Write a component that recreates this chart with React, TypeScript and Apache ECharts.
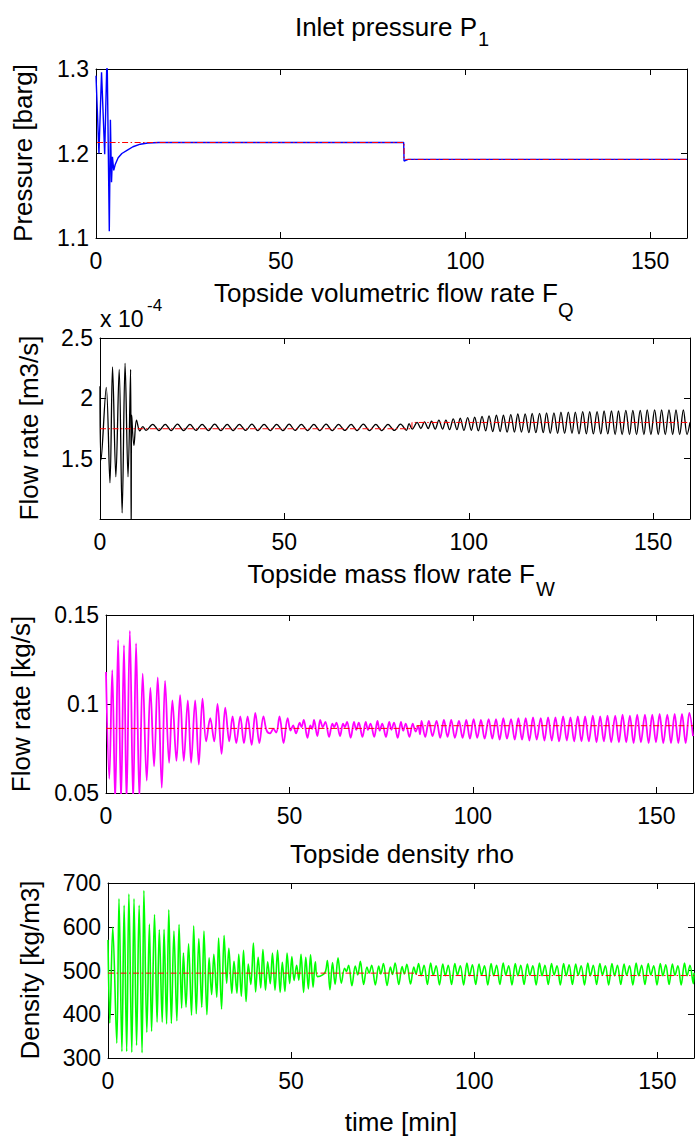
import React, { useEffect, useRef } from "react";
import * as echarts from "echarts";

const FONT = '"Liberation Sans", Arial, Helvetica, sans-serif';

// Shared time axis [min]
const timeMin = 0;
const timeMax = 160;
const timeStep = 50;

// Inlet pressure P1 [barg]: [time, value]
const pressureP1 = [
  [0, 1.292], [0.8, 1.2], [1.5, 1.296], [2.35, 1.199], [3.0, 1.32], [3.6, 1.108],
  [3.9, 1.24], [4.2, 1.166], [4.45, 1.196], [4.8, 1.18], [5.2, 1.187], [6.0, 1.195],
  [7.0, 1.2], [8.5, 1.204], [10.0, 1.208], [12.0, 1.211], [14.0, 1.2125], [17.0, 1.213],
  [83.3, 1.213], [83.4, 1.191], [84.5, 1.193], [160, 1.193],
];
const pressureSetpoint = [[0.3, 1.213], [83.4, 1.213], [83.4, 1.193], [160, 1.193]];

// Topside volumetric flow rate FQ, in units of 1e-4 m3/s
const flowQ = [
  [0, 2.1], [0.3, 1.49], [1.7, 2.09], [2.7, 1.3], [3.4, 2.26], [4.3, 1.35], [5.2, 2.24],
  [6.0, 1.05], [6.8, 2.29], [7.6, 1.35], [8.3, 2.24], [8.45, 0.9], [8.6, 1.86], [9.2, 1.61],
  [9.9, 1.82], [10.8, 1.73], [11.6, 1.765], [12.5, 1.735],
  [14.3, 1.785], [16.0, 1.733], [17.7, 1.785], [19.3, 1.733], [21.0, 1.786], [22.7, 1.733],
  [24.4, 1.785], [26.0, 1.734], [27.7, 1.785], [29.4, 1.733], [31.1, 1.786], [32.8, 1.733],
  [34.5, 1.785], [36.1, 1.733], [37.8, 1.785], [39.5, 1.734], [41.2, 1.786], [42.8, 1.733],
  [44.5, 1.785], [46.2, 1.733], [47.9, 1.785], [49.6, 1.733], [51.3, 1.786], [52.9, 1.734],
  [54.6, 1.785], [56.3, 1.733], [58.0, 1.785], [59.6, 1.733], [61.3, 1.786], [63.0, 1.733],
  [64.7, 1.785], [66.4, 1.734], [68.1, 1.785], [69.7, 1.733], [71.4, 1.786], [73.1, 1.733],
  [74.8, 1.785], [76.4, 1.733], [78.1, 1.785], [79.8, 1.734], [81.5, 1.786], [83.1, 1.735],
  [83.8, 1.79], [84.7, 1.745], [86.0, 1.8], [87.0, 1.75], [88.0, 1.805], [89.0, 1.75],
  [89.9, 1.81], [90.9, 1.745], [91.9, 1.82], [92.9, 1.745], [93.8, 1.82], [94.8, 1.74],
  [95.8, 1.83], [96.8, 1.74], [97.7, 1.835], [98.7, 1.735], [99.7, 1.84], [100.7, 1.735],
  [101.6, 1.845], [102.6, 1.73], [103.6, 1.85], [104.6, 1.73], [105.5, 1.855], [106.5, 1.725],
  [107.5, 1.86], [108.5, 1.725], [109.4, 1.86], [110.4, 1.72], [111.4, 1.865], [112.4, 1.72],
  [113.3, 1.87], [114.3, 1.72], [115.3, 1.87], [116.3, 1.715], [117.2, 1.875], [118.2, 1.715],
  [119.2, 1.875], [120.2, 1.715], [121.1, 1.88], [122.1, 1.71], [123.1, 1.88], [124.1, 1.71],
  [125.0, 1.885], [126.0, 1.71], [127.0, 1.885], [128.0, 1.71], [128.9, 1.885], [129.9, 1.705],
  [130.9, 1.89], [131.9, 1.705], [132.8, 1.89], [133.8, 1.705], [134.8, 1.89], [135.8, 1.705],
  [136.7, 1.895], [137.7, 1.705], [138.7, 1.895], [139.7, 1.7], [140.6, 1.895], [141.6, 1.7],
  [142.6, 1.9], [143.6, 1.7], [144.5, 1.9], [145.5, 1.7], [146.5, 1.9], [147.5, 1.7],
  [148.4, 1.905], [149.4, 1.7], [150.4, 1.905], [151.4, 1.7], [152.3, 1.905], [153.3, 1.7],
  [154.3, 1.905], [155.3, 1.7], [156.2, 1.905], [157.2, 1.7], [158.2, 1.905], [159.2, 1.7],
  [160, 1.8],
];
const flowQSetpoint = [[0, 1.748], [84.6, 1.748], [84.6, 1.8], [160, 1.8]];

// Topside mass flow rate FW [kg/s]
const massFlowW = [
  [0, 0.118], [0.9, 0.058], [1.7, 0.119], [2.5, 0.045], [3.3, 0.136], [4.1, 0.045],
  [4.9, 0.133], [5.6, 0.045], [6.5, 0.141], [7.4, 0.045], [8.2, 0.134], [9.1, 0.047],
  [10.0, 0.117], [11.1, 0.057], [12.1, 0.109], [13.1, 0.065], [14.1, 0.115], [15.2, 0.053],
  [16.1, 0.113], [17.2, 0.067], [18.1, 0.102], [19.2, 0.068], [20.2, 0.105], [21.2, 0.068],
  [22.3, 0.102], [23.2, 0.067], [24.3, 0.102], [25.3, 0.066], [26.3, 0.103], [27.3, 0.079],
  [28.4, 0.092], [29.5, 0.079], [30.4, 0.1], [31.5, 0.072], [32.5, 0.098], [33.6, 0.079],
  [34.5, 0.093], [35.5, 0.078], [36.6, 0.093], [37.6, 0.078], [38.6, 0.093], [39.7, 0.077],
  [40.7, 0.095], [41.8, 0.078], [42.9, 0.093], [43.8, 0.085], [44.7, 0.0835], [45.6, 0.086],
  [46.4, 0.084], [47.3, 0.093], [48.4, 0.078], [49.5, 0.092], [50.3, 0.085], [51.0, 0.088],
  [51.8, 0.0835], [52.8, 0.0895], [53.3, 0.087], [53.9, 0.091], [54.9, 0.081], [55.7, 0.088],
  [56.2, 0.086], [56.7, 0.091], [57.6, 0.082], [58.4, 0.091], [59.1, 0.087], [59.8, 0.09],
  [60.8, 0.0815], [61.7, 0.089], [62.2, 0.087], [62.8, 0.0895], [63.8, 0.082], [64.6, 0.089],
  [65.1, 0.087], [65.7, 0.09], [66.7, 0.081], [67.6, 0.09], [68.2, 0.0855], [68.9, 0.0895],
  [69.9, 0.0815], [70.8, 0.09], [71.4, 0.0855], [72.1, 0.089], [73.1, 0.0815], [74.0, 0.0905],
  [74.6, 0.085], [75.3, 0.089], [76.3, 0.0815], [77.2, 0.09], [77.8, 0.0855], [78.5, 0.0895],
  [79.5, 0.081], [80.4, 0.09], [81.0, 0.085], [81.7, 0.089], [82.7, 0.0815], [83.6, 0.089],
  [84.4, 0.0845], [85.1, 0.0875], [85.6, 0.083],
  [86.0, 0.0905], [87.0, 0.0815], [88.0, 0.0905], [89.0, 0.082], [90.1, 0.0905], [91.1, 0.081],
  [92.1, 0.091], [93.1, 0.0815], [94.1, 0.091], [95.1, 0.081], [96.2, 0.0905], [97.2, 0.081],
  [98.2, 0.091], [99.2, 0.0805], [100.2, 0.0915], [101.2, 0.081], [102.2, 0.091], [103.2, 0.0805],
  [104.3, 0.0915], [105.3, 0.0805], [106.3, 0.0915], [107.3, 0.08], [108.3, 0.092], [109.3, 0.0805],
  [110.4, 0.0915], [111.4, 0.08], [112.4, 0.092], [113.4, 0.08], [114.4, 0.092], [115.4, 0.0795],
  [116.4, 0.0925], [117.4, 0.08], [118.5, 0.092], [119.5, 0.0795], [120.5, 0.0925], [121.5, 0.0795],
  [122.5, 0.0925], [123.5, 0.079], [124.6, 0.093], [125.6, 0.0795], [126.6, 0.0925], [127.6, 0.079],
  [128.6, 0.093], [129.6, 0.079], [130.6, 0.093], [131.6, 0.079], [132.7, 0.0935], [133.7, 0.0785],
  [134.7, 0.093], [135.7, 0.079], [136.7, 0.0935], [137.7, 0.0785], [138.8, 0.0935], [139.8, 0.0785],
  [140.8, 0.094], [141.8, 0.0785], [142.8, 0.0935], [143.8, 0.078], [144.8, 0.094], [145.8, 0.0785],
  [146.9, 0.094], [147.9, 0.078], [148.9, 0.094], [149.9, 0.0785], [150.9, 0.0945], [151.9, 0.078],
  [153.0, 0.094], [154.0, 0.078], [155.0, 0.0945], [156.0, 0.078], [157.0, 0.0945], [158.0, 0.078],
  [159.0, 0.095], [160, 0.082],
];
const massFlowSetpoint = [[0, 0.0863], [84.7, 0.0863], [84.7, 0.0878], [160, 0.0878]];

// Topside density rho [kg/m3]
const densityRho = [
  [0, 570], [0.5, 380], [1.3, 599], [2.4, 334], [3.0, 664], [3.8, 315], [4.4, 649], [5.1, 315],
  [5.7, 675], [6.5, 313], [7.1, 664], [7.8, 329], [8.5, 649], [9.3, 312], [9.8, 683], [10.6, 359],
  [11.3, 606], [11.9, 361], [12.7, 628], [13.4, 382], [14.0, 593], [14.8, 382], [15.3, 594],
  [16.0, 378], [16.6, 639], [17.3, 379], [18.0, 590], [18.8, 385], [19.4, 605], [20.1, 414],
  [20.6, 540], [21.3, 416], [22.0, 561], [22.8, 398], [23.4, 602], [24.1, 401], [24.8, 573],
  [25.6, 416], [26.2, 590], [27.0, 399], [27.6, 529], [28.3, 445], [28.9, 537], [29.7, 439],
  [30.2, 574], [31.0, 412], [31.7, 580], [32.4, 471], [33.0, 551], [33.8, 448], [34.4, 521],
  [35.2, 448], [35.7, 537], [36.4, 441], [37.0, 546], [37.7, 429], [38.3, 515], [39.0, 468],
  [39.7, 563], [40.3, 451], [41.0, 530], [41.7, 460], [42.3, 548], [43.0, 455], [43.6, 520],
  [44.3, 470], [44.9, 540], [45.6, 455], [46.3, 546], [47.0, 450], [47.6, 519], [48.3, 452],
  [48.9, 540], [49.6, 470], [50.2, 532], [50.8, 477], [51.5, 512], [52.1, 478], [52.7, 537],
  [53.4, 450], [54.0, 530], [54.7, 458], [55.3, 536], [56.0, 462], [56.6, 520], [57.2, 486],
  [58.6, 490], [59.4, 498], [59.9, 523], [60.6, 456], [61.3, 518], [62.0, 468], [62.8, 529],
  [63.7, 471], [64.6, 505], [65.1, 498], [65.7, 512], [66.6, 465], [67.5, 510], [68.2, 490],
  [68.9, 521], [69.8, 468], [70.7, 508], [71.3, 494], [72.0, 512], [73.0, 467], [73.9, 510],
  [74.5, 492], [75.2, 516], [76.2, 466], [77.1, 508], [77.7, 491], [78.4, 517], [79.4, 468],
  [80.3, 509], [80.9, 492], [81.6, 514], [82.6, 469], [83.5, 508], [84.1, 492],
  [84.8, 516], [85.5, 488], [86.3, 512], [87.2, 468], [88.1, 517], [88.8, 489], [89.6, 511],
  [90.5, 467], [91.4, 515], [92.1, 488], [92.9, 512], [93.8, 468], [94.7, 516], [95.4, 490],
  [96.2, 511], [97.1, 467], [98.0, 517], [98.7, 488], [99.5, 513], [100.4, 468], [101.3, 515],
  [102.0, 489], [102.8, 511], [103.7, 467], [104.6, 516], [105.3, 488], [106.1, 512], [107.0, 468],
  [107.9, 517], [108.6, 490], [109.4, 511], [110.3, 467], [111.2, 516], [111.9, 488], [112.7, 512],
  [113.6, 468], [114.5, 515], [115.2, 489], [116.0, 511], [116.9, 467], [117.8, 517], [118.5, 488],
  [119.3, 512], [120.2, 468], [121.1, 516], [121.8, 490], [122.6, 511], [123.5, 467], [124.4, 516],
  [125.1, 488], [125.9, 513], [126.8, 468], [127.7, 515], [128.4, 489], [129.2, 511], [130.1, 467],
  [131.0, 517], [131.7, 488], [132.5, 512], [133.4, 468], [134.3, 516], [135.0, 490], [135.8, 511],
  [136.7, 467], [137.6, 516], [138.3, 488], [139.1, 512], [140.0, 468], [140.9, 515], [141.6, 489],
  [142.4, 511], [143.3, 467], [144.2, 517], [144.9, 488], [145.7, 512], [146.6, 468], [147.5, 516],
  [148.2, 490], [149.0, 511], [149.9, 467], [150.8, 516], [151.5, 488], [152.3, 513], [153.2, 468],
  [154.1, 515], [154.8, 489], [155.6, 511], [156.5, 467], [157.4, 517], [158.1, 488], [158.9, 512],
  [159.8, 470], [160, 495],
];
const densitySetpoint = [[0, 494], [84.2, 494], [84.2, 488.5], [160, 488.5]];

// Y axis ranges per panel
const pressureAxis = { min: 1.1, max: 1.3, interval: 0.1 };
const flowQAxis = { min: 1.0, max: 2.5, interval: 0.5 };
const massFlowAxis = { min: 0.05, max: 0.15, interval: 0.05 };
const densityAxis = { min: 300, max: 700, interval: 100 };

const panels = [
  { grid: { left: 96, top: 69, width: 591, height: 169 }, y: pressureAxis, line: pressureP1, ref: pressureSetpoint, color: "#0000ff", lw: 1.4, smooth: false, hideMinY: false },
  { grid: { left: 100, top: 338, width: 590, height: 181 }, y: flowQAxis, line: flowQ, ref: flowQSetpoint, color: "#000000", lw: 1.3, smooth: 0.35, hideMinY: true },
  { grid: { left: 106, top: 615, width: 587, height: 178 }, y: massFlowAxis, line: massFlowW, ref: massFlowSetpoint, color: "#ff00ff", lw: 1.8, smooth: 0.35, hideMinY: false },
  { grid: { left: 108, top: 883, width: 586, height: 175 }, y: densityAxis, line: densityRho, ref: densitySetpoint, color: "#00ff00", lw: 1.6, smooth: 0.35, hideMinY: false },
];

const axisLine = { show: true, onZero: false, lineStyle: { color: "#000", width: 1 } };
const tick = { show: true, inside: true, length: 6, lineStyle: { color: "#000", width: 1 } };
const tickLabel = { color: "#000", fontSize: 23, fontFamily: FONT };

function text(x: number, y: number, s: string, size: number, align: string, rotation = 0) {
  return {
    type: "text",
    x,
    y,
    rotation,
    silent: true,
    style: { text: s, fill: "#000", fontSize: size, fontFamily: FONT, align, verticalAlign: "middle" },
  };
}

function buildOption() {
  const xAxis: any[] = [];
  const yAxis: any[] = [];
  const series: any[] = [];
  panels.forEach((p, i) => {
    const xBase = { gridIndex: i, type: "value", min: timeMin, max: timeMax, interval: timeStep, splitLine: { show: false }, axisLine, axisTick: tick };
    xAxis.push({ ...xBase, position: "bottom", axisLabel: { ...tickLabel, margin: 11, showMaxLabel: false } });
    xAxis.push({ ...xBase, position: "top", axisLabel: { show: false } });
    const yBase = { gridIndex: i, type: "value", min: p.y.min, max: p.y.max, interval: p.y.interval, splitLine: { show: false }, axisLine, axisTick: tick };
    yAxis.push({ ...yBase, position: "left", axisLabel: { ...tickLabel, margin: 7, showMinLabel: !p.hideMinY } });
    yAxis.push({ ...yBase, position: "right", axisLabel: { show: false } });
    series.push({
      type: "line", xAxisIndex: 2 * i, yAxisIndex: 2 * i, data: p.line, showSymbol: false,
      smooth: p.smooth, clip: true, lineStyle: { color: p.color, width: p.lw }, silent: true,
    });
    series.push({
      type: "line", xAxisIndex: 2 * i, yAxisIndex: 2 * i, data: p.ref, showSymbol: false,
      clip: true, lineStyle: { color: "#ff0000", width: 1, type: [6, 2.5, 1.5, 2.5] }, silent: true,
    });
  });

  const graphic = [
    text(477, 27, "Inlet pressure P", 26, "right"),
    text(478, 39, "1", 20, "left"),
    text(558, 293, "Topside volumetric flow rate F", 26, "right"),
    text(558, 310, "Q", 20, "left"),
    text(100, 319, "x 10", 23, "left"),
    text(147, 305, "-4", 17, "left"),
    text(535, 574, "Topside mass flow rate F", 26, "right"),
    text(536, 589, "W", 20, "left"),
    text(402, 854, "Topside density rho", 26, "center"),
    text(401, 1122, "time [min]", 26, "center"),
    text(23, 153, "Pressure [barg]", 26, "center", Math.PI / 2),
    text(29, 428, "Flow rate [m3/s]", 26, "center", Math.PI / 2),
    text(21, 704, "Flow rate [kg/s]", 26, "center", Math.PI / 2),
    text(30, 970, "Density [kg/m3]", 26, "center", Math.PI / 2),
  ];

  return {
    animation: false,
    backgroundColor: "#ffffff",
    grid: panels.map((p) => ({ ...p.grid, show: false })),
    xAxis,
    yAxis,
    series,
    graphic,
  };
}

export default function App() {
  const ref = useRef<HTMLDivElement>(null);
  useEffect(() => {
    if (!ref.current) return;
    const chart = echarts.init(ref.current, undefined, { renderer: "svg" });
    chart.setOption(buildOption() as any);
    return () => chart.dispose();
  }, []);
  return (
    <div
      ref={ref}
      style={{ position: "absolute", left: 0, top: 0, width: 695, height: 1140, background: "#fff" }}
    />
  );
}
